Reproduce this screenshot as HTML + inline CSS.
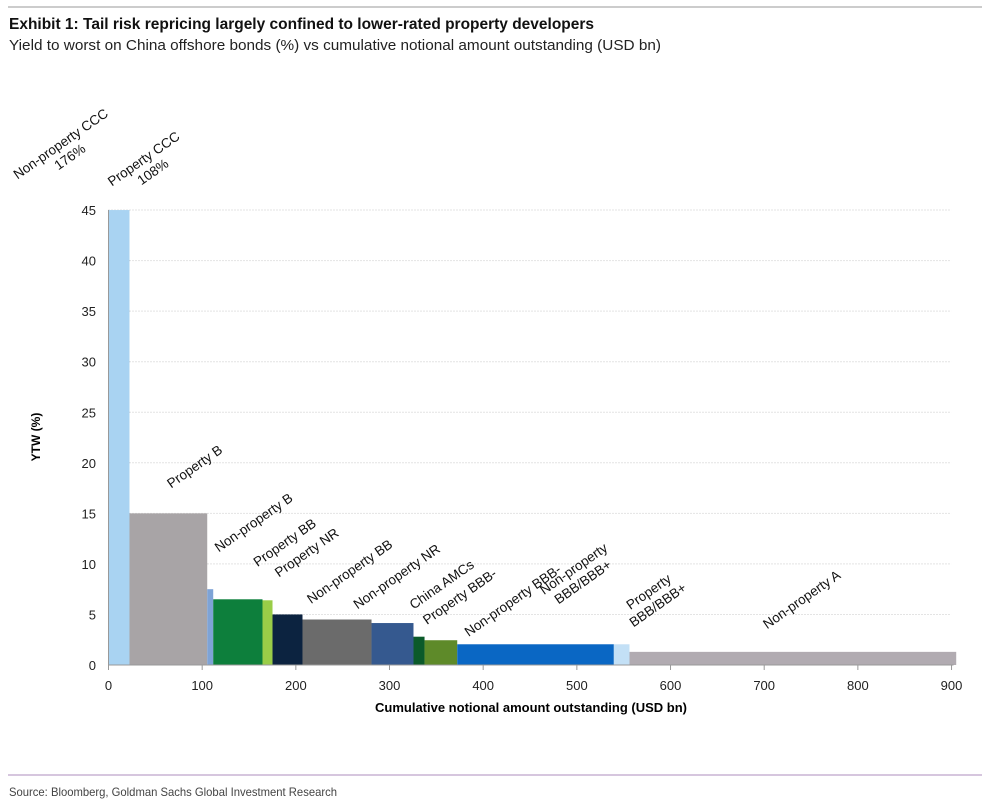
<!DOCTYPE html>
<html><head><meta charset="utf-8"><style>
body{margin:0;background:#fff;}
svg{display:block;font-family:"Liberation Sans",sans-serif;}
</style></head><body>
<svg id="c" width="982" height="810" xmlns="http://www.w3.org/2000/svg">
<line x1="8" y1="7" x2="982" y2="7" stroke="#999" stroke-width="1"/>
<text x="9" y="29" font-size="16" font-weight="bold" textLength="585" lengthAdjust="spacingAndGlyphs" fill="#111">Exhibit 1: Tail risk repricing largely confined to lower-rated property developers</text>
<text x="9" y="50" font-size="15" textLength="652" lengthAdjust="spacingAndGlyphs" fill="#222">Yield to worst on China offshore bonds (%) vs cumulative notional amount outstanding (USD bn)</text>
<g id="grid"></g><g id="bars"></g><g id="axes"></g><g id="labels"></g>
<text x="40" y="437" font-size="12" font-weight="bold" transform="rotate(-90 40 437)" text-anchor="middle">YTW (%)</text>
<text x="531" y="712" font-size="13" font-weight="bold" text-anchor="middle">Cumulative notional amount outstanding (USD bn)</text>
<line x1="8" y1="775" x2="982" y2="775" stroke="#c9b3d3" stroke-width="1.5"/>
<text x="9" y="796" font-size="12" textLength="328" lengthAdjust="spacingAndGlyphs" fill="#444">Source: Bloomberg, Goldman Sachs Global Investment Research</text>
</svg>
<script>
const categories=["Non-property CCC","Property B","Non-property B","Property BB","Property NR","Non-property BB","Non-property NR","China AMCs","Property BBB-","Non-property BBB-","Non-property BBB/BBB+","Property BBB/BBB+","Non-property A"];
const cumEnd=[22.4,105.4,111.8,164.4,175.1,207.1,280.8,325.6,337.4,372.3,539.5,556.2,905];
const ytw=[45,15,7.5,6.5,6.4,5.0,4.5,4.15,2.8,2.45,2.05,2.05,1.3];
const colors=["#a9d3f2","#a8a4a6","#7ea3d6","#0d7f3c","#9acd48","#0c2340","#6b6b6b","#35598f","#0b5a2a","#5e8a29","#0a67c4","#c3e0f6","#b1abb1"];
const xTicks=[0,100,200,300,400,500,600,700,800,900];
const yTicks=[0,5,10,15,20,25,30,35,40,45];
const NS="http://www.w3.org/2000/svg";
const X=v=>108.5+v*0.9367, Y=v=>665-v*10.11;
function mk(t,a,p){const e=document.createElementNS(NS,t);for(const k in a)e.setAttribute(k,a[k]);p.appendChild(e);return e;}
const grid=document.getElementById('grid'),bars=document.getElementById('bars'),axes=document.getElementById('axes'),labels=document.getElementById('labels');
yTicks.forEach(t=>{
 if(t>0){const g=mk('line',{x1:X(0),x2:X(900),y1:Y(t),y2:Y(t),stroke:'#c8c8c8','stroke-dasharray':'1,2'},grid);
 
 }
 const l=mk('text',{x:96,y:Y(t)+5,'font-size':13,'text-anchor':'end',fill:'#222'},axes);l.textContent=t;
 
 
});
let prev=0;
cumEnd.forEach((e,i)=>{
 const r=mk('rect',{x:X(prev),y:Y(ytw[i]),width:X(e)-X(prev),height:Y(0)-Y(ytw[i]),fill:colors[i]},bars);
 
 
 prev=e;
});
mk('line',{x1:X(0),x2:X(900)+2,y1:665,y2:665,stroke:'#999'},axes);
mk('line',{x1:X(0),x2:X(0),y1:Y(45),y2:665,stroke:'#999'},axes);
xTicks.forEach(t=>{
 mk('line',{x1:X(t),x2:X(t),y1:665,y2:670,stroke:'#999'},axes);
 const l=mk('text',{x:X(t),y:690,'font-size':13,'text-anchor':'middle',fill:'#222'},axes);l.textContent=t;
 
 
});
const lab=[[["Non-property CCC","176%"],65,150],[["Property CCC","108%"],148,165],[["Property  B"],195,467],[["Non-property B"],254,523],[["Property  BB"],285,543],[["Property  NR"],307,553],[["Non-property BB"],350,572],[["Non-property NR"],397,577],[["China AMCs"],442,585],[["Property  BBB-"],460,597],[["Non-property BBB-"],513,601],[["Non-property","BBB/BBB+"],578,575],[["Property","BBB/BBB+"],653,598],[["Non-property A"],802,600]];
lab.forEach(([lines,cx,cy])=>{
 const t=mk('text',{x:cx,y:cy,'font-size':13.5,'text-anchor':'middle',fill:'#111',transform:`rotate(-35 ${cx} ${cy})`},labels);
 
 
 lines.forEach((s,i)=>{const ts=mk('tspan',{x:cx,dy:i?16:(lines.length>1?-3:4)},t);ts.textContent=s;});
});
</script>
</body></html>
